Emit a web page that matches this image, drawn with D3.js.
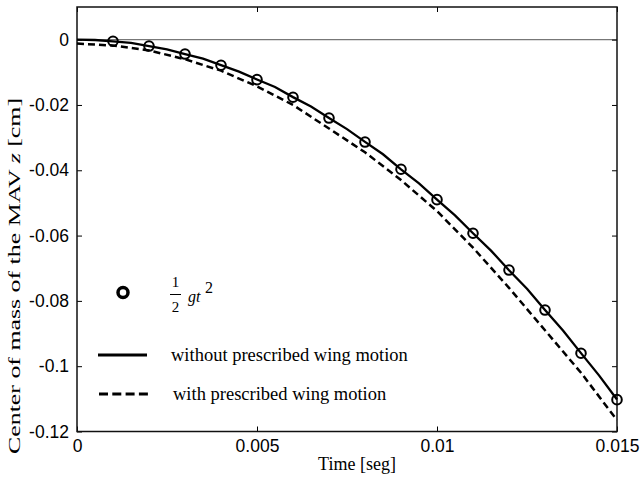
<!DOCTYPE html>
<html>
<head>
<meta charset="utf-8">
<script src="https://cdn.jsdelivr.net/npm/d3@7/dist/d3.min.js"></script>
<style>
  html, body { margin: 0; padding: 0; background: #fff; }
  svg { display: block; }
  .tick-label { font-family: "Liberation Sans", Arial, sans-serif; font-size: 17.5px; fill: #000; }
  .serif { font-family: "Liberation Serif", "Times New Roman", serif; fill: #000; }
</style>
</head>
<body>
<svg id="chart" width="640" height="477"></svg>
<script>
// Time samples for the analytic free-fall markers (s)
const markerTime = [0.001, 0.002, 0.003, 0.004, 0.005, 0.006, 0.007, 0.008,
                    0.009, 0.010, 0.011, 0.012, 0.013, 0.014, 0.015];
// 1/2 g t^2 (cm)
const markerZ = [-0.00049, -0.00196, -0.00441, -0.00784, -0.01225, -0.01764, -0.02401, -0.03136,
                 -0.03969, -0.04900, -0.05929, -0.07056, -0.08281, -0.09604, -0.11025];

// Simulated centre of mass, no prescribed wing motion
const solidTime = [0, 0.0005, 0.001, 0.0015, 0.002, 0.0025, 0.003, 0.0035, 0.004, 0.0045,
                   0.005, 0.0055, 0.006, 0.0065, 0.007, 0.0075, 0.008, 0.0085, 0.009, 0.0095,
                   0.010, 0.0105, 0.011, 0.0115, 0.012, 0.0125, 0.013, 0.0135, 0.014, 0.0145, 0.015];
const solidZ = [0, -0.0001, -0.0005, -0.0010, -0.0020, -0.0030, -0.0044, -0.0058, -0.0078, -0.0098,
                -0.0122, -0.0145, -0.0176, -0.0205, -0.0240, -0.0274, -0.0313, -0.0351, -0.0397, -0.0440,
                -0.0490, -0.0538, -0.0593, -0.0646, -0.0706, -0.0763, -0.0828, -0.0891, -0.0960, -0.1028, -0.1102];

// Simulated centre of mass, with prescribed wing motion
const dashedTime = [0, 0.001, 0.002, 0.003, 0.004, 0.005, 0.006, 0.007,
                    0.008, 0.009, 0.010, 0.011, 0.012, 0.013, 0.014, 0.015];
const dashedZ = [-0.0012, -0.0018, -0.0033, -0.0060, -0.0095, -0.0143, -0.0200, -0.0272,
                 -0.0345, -0.0430, -0.0525, -0.0637, -0.0760, -0.0890, -0.1020, -0.1165];

const xTicks = [0, 0.005, 0.01, 0.015];
const xTickLabels = ["0", "0.005", "0.01", "0.015"];
const yTicks = [-0.12, -0.1, -0.08, -0.06, -0.04, -0.02, 0];
const yTickLabels = ["-0.12", "-0.1", "-0.08", "-0.06", "-0.04", "-0.02", "0"];

const svg = d3.select("#chart");
const plotLeft = 77, plotRight = 617, plotTop = 7, plotBottom = 431.5;

const x = d3.scaleLinear().domain([0, 0.015]).range([plotLeft, plotRight]);
const y = d3.scaleLinear().domain([-0.12, 0.01]).range([plotBottom, plotTop]);

// zero reference line
svg.append("line")
  .attr("x1", plotLeft).attr("x2", plotRight)
  .attr("y1", y(0)).attr("y2", y(0))
  .attr("stroke", "#777").attr("stroke-width", 1.2);

// axes (ticks pointing inward, labels on left/bottom only)
const tickLen = 5;
const gx = svg.append("g").attr("transform", `translate(0,${plotBottom})`)
  .call(d3.axisBottom(x).tickValues(xTicks).tickSize(-tickLen).tickPadding(8)
        .tickFormat((d, i) => xTickLabels[i]));
const gy = svg.append("g").attr("transform", `translate(${plotLeft},0)`)
  .call(d3.axisLeft(y).tickValues(yTicks).tickSize(-tickLen).tickPadding(8)
        .tickFormat((d, i) => yTickLabels[i]));
const gxTop = svg.append("g").attr("transform", `translate(0,${plotTop})`)
  .call(d3.axisTop(x).tickValues(xTicks).tickSize(-tickLen).tickFormat(""));
const gyRight = svg.append("g").attr("transform", `translate(${plotRight},0)`)
  .call(d3.axisRight(y).tickValues(yTicks).tickSize(-tickLen).tickFormat(""));

[gx, gy, gxTop, gyRight].forEach(g => {
  g.select(".domain").remove();
  g.selectAll(".tick line").attr("stroke", "#000").attr("stroke-width", 1);
  g.selectAll(".tick text").attr("class", "tick-label").attr("fill", "#000");
});
gx.selectAll(".tick text").attr("dy", "0.71em");

// plot box
svg.append("rect")
  .attr("x", plotLeft).attr("y", plotTop)
  .attr("width", plotRight - plotLeft).attr("height", plotBottom - plotTop)
  .attr("fill", "none").attr("stroke", "#111").attr("stroke-width", 1.5);

const plot = svg.append("g");

const line = d3.line().x(d => x(d[0])).y(d => y(d[1]));

plot.append("path")
  .datum(dashedTime.map((t, i) => [t, dashedZ[i]]))
  .attr("d", line)
  .attr("fill", "none").attr("stroke", "#000")
  .attr("stroke-width", 2.5).attr("stroke-dasharray", "7,4");

plot.append("path")
  .datum(solidTime.map((t, i) => [t, solidZ[i]]))
  .attr("d", line)
  .attr("fill", "none").attr("stroke", "#000").attr("stroke-width", 2.3);

plot.selectAll("circle.marker")
  .data(markerTime.map((t, i) => [t, markerZ[i]]))
  .join("circle").attr("class", "marker")
  .attr("cx", d => x(d[0])).attr("cy", d => y(d[1]))
  .attr("r", 4.8)
  .attr("fill", "none").attr("stroke", "#000").attr("stroke-width", 2);

// legend
const lg = svg.append("g");
lg.append("circle").attr("cx", 123).attr("cy", 292.5).attr("r", 5)
  .attr("fill", "none").attr("stroke", "#000").attr("stroke-width", 3.5);
lg.append("text").attr("class", "serif").attr("x", 175.5).attr("y", 287)
  .attr("text-anchor", "middle").attr("font-size", 15).text("1");
lg.append("line").attr("x1", 170).attr("x2", 181).attr("y1", 294.5).attr("y2", 294.5)
  .attr("stroke", "#000").attr("stroke-width", 1);
lg.append("text").attr("class", "serif").attr("x", 175.5).attr("y", 312)
  .attr("text-anchor", "middle").attr("font-size", 15).text("2");
lg.append("text").attr("class", "serif").attr("x", 188).attr("y", 302)
  .attr("font-size", 16).attr("font-style", "italic").text("gt");
lg.append("text").attr("class", "serif").attr("x", 205).attr("y", 293)
  .attr("font-size", 16).text("2");

lg.append("line").attr("x1", 98).attr("x2", 147).attr("y1", 355).attr("y2", 355)
  .attr("stroke", "#000").attr("stroke-width", 3);
lg.append("text").attr("class", "serif").attr("x", 171).attr("y", 361)
  .attr("font-size", 18.5).text("without prescribed wing motion");

lg.append("line").attr("x1", 99).attr("x2", 148).attr("y1", 394).attr("y2", 394)
  .attr("stroke", "#000").attr("stroke-width", 3).attr("stroke-dasharray", "9,4.3");
lg.append("text").attr("class", "serif").attr("x", 173).attr("y", 400)
  .attr("font-size", 18.5).text("with prescribed wing motion");

// axis titles
svg.append("text").attr("class", "serif")
  .attr("x", 357).attr("y", 470)
  .attr("text-anchor", "middle").attr("font-size", 18).text("Time [seg]");

const yl = svg.append("text").attr("class", "serif")
  .attr("transform", "translate(20,276) rotate(-90)")
  .attr("text-anchor", "middle").attr("font-size", 17)
  .attr("textLength", 356).attr("lengthAdjust", "spacingAndGlyphs");
yl.append("tspan").text("Center of mass of the MAV ");
yl.append("tspan").attr("font-style", "italic").text("z");
yl.append("tspan").text(" [cm]");
</script>
</body>
</html>
